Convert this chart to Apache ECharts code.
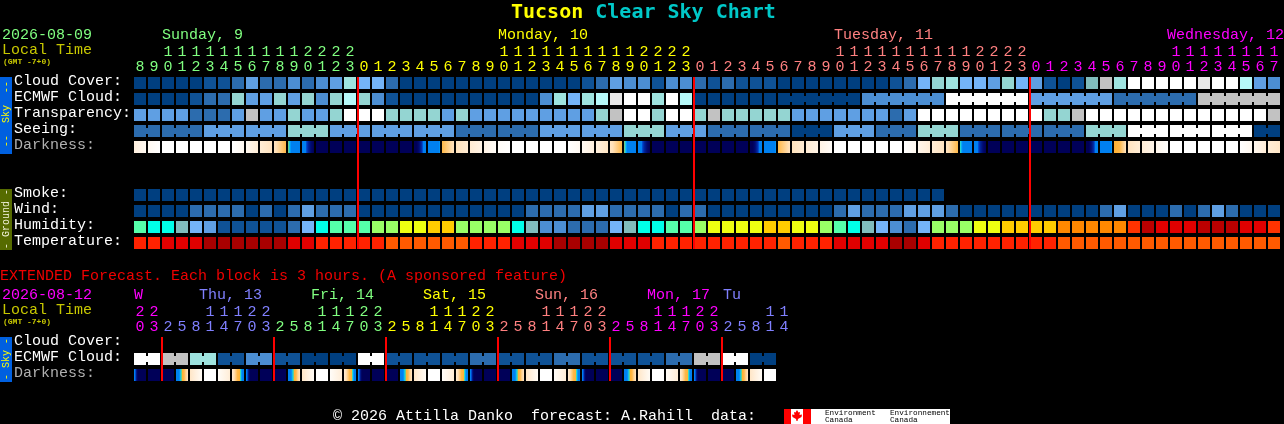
<!DOCTYPE html>
<html><head><meta charset="utf-8">
<style>html,body{margin:0;padding:0;background:#000;}#c{width:1284px;height:424px;}</style>
<script src="https://cdn.jsdelivr.net/npm/echarts@6/dist/echarts.min.js"></script>
</head><body><div id="c"></div>
<script>
// ---- values ----
const mainHours = [8,9,10,11,12,13,14,15,16,17,18,19,20,21,22,23,
  0,1,2,3,4,5,6,7,8,9,10,11,12,13,14,15,16,17,18,19,20,21,22,23,
  0,1,2,3,4,5,6,7,8,9,10,11,12,13,14,15,16,17,18,19,20,21,22,23,
  0,1,2,3,4,5,6,7,8,9,10,11,12,13,14,15,16,17];
const extHours = [20,23,2,5,8,11,14,17,20,23,2,5,8,11,14,17,20,23,2,5,8,11,14,17,20,23,
  2,5,8,11,14,17,20,23,2,5,8,11,14,17,20,23,2,5,8,11,14];
const mainRows = ['Cloud Cover:','ECMWF Cloud:','Transparency:','Seeing:','Darkness:','','','Smoke:','Wind:','Humidity:','Temperature:'];
const extRows = ['Cloud Cover:','ECMWF Cloud:','Darkness:'];

// levels index into levelColors
const cloudCover = [0,0,0,0,0,1,1,2,4,2,2,3,2,3,4,7,5,5,2,0,0,
  0,0,0,0,0,0,0,0,0,0,0,1,2,4,3,3,1,3,3,2,1,2,1,1,1,0,0,0,0,0,0,
  0,0,1,2,5,6,7,5,5,4,6,5,4,1,0,1,12,10,7,9,9,9,9,9,11,9,9,8,4,3];
const ecmwfCloud = [0,0,0,0,1,2,2,6,4,4,6,4,6,3,6,8,6,3,1,0,0,
  0,0,0,0,0,0,0,0,3,7,5,7,8,11,9,9,7,9,8,0,0,0,0,0,0,
  0,0,0,0,0,0, 3,3,3,3,3,3, 9,9,9,9,9,9, 4,4,4,4,4,4, 2,2,2,2,2,2, 10,10,10,10,10,10];
const ecmwfBlocks = [1,1,1,1,1,1,1,1,1,1,1,1,1,1,1,1,1,1,1,1,1,1,1,1,1,1,1,1,1,1,1,1,1,1,1,1,1,1,1,1,1,1,1,1,1,1,6,6,6,6,6,6];
const transparency = [4,4,4,4,2,2,2,4,10,4,4,6,4,4,6,9,9,9,6,6,6,
  6,4,6,4,4,4,4,4,4,4,4,4,6,10,9,9,6,9,9,6,10,6,6,6,6,6,4,4,4,4,4,
  4,4,2,4,9,9,9,9,9,9,9,9,9,6,6,10,9,9,9,9,9,9,9,9,9,9,9,9,9,10];
const seeing = [2,2, 2,2,2, 4,4,4, 4,4,4, 6,6,6, 4,4,4, 4,4,4, 4,4,4, 2,2,2, 2,2,2, 4,4,4, 4,4,4,
  6,6,6, 4,4,4, 2,2,2, 2,2,2, 0,0,0, 4,4,4, 2,2,2, 6,6,6, 2,2,2, 2,2,2, 2,2,2, 6,6,6, 9,9,9, 9,9,9, 9,9,9, 0,0];
const seeingBlocks = [2,3,3,3,3,3,3,3,3,3,3,3,3,3,3,3,3,3,3,3,3,3,3,3,3,3,3,2];
const smoke = [0,0,0,0,0,0,0,0,0,0,0,0,0,0,0,0,0,0,0,0,0,0,0,0,0,0,0,0,0,0,0,0,0,0,0,0,0,0,0,0,0,0,0,0,0,0,0,0,0,0,0,0,0,0,0,0,0,0];
const wind = [0,0,0,0,2,2,2,2,0,2,0,2,4,2,2,2,0,0,0,0,0,
  0,0,0,0,0,0,0,2,2,2,2,4,4,2,2,2,2,0,2,2,0,0,0,0,0,0,0,0,0,2,4,
  2,2,2,4,4,4,2,0,0,0,0,0,0,0,0,0,0,2,4,0,0,0,2,0,2,4,2,0,0,0];
const humidity = [13,14,14,12,5,4,1,1,1,1,1,2,5,14,13,13,13,15,15,16,16,
  17,17,15,15,15,15,14,12,3,3,2,2,2,5,12,14,14,13,13,15,16,16,16,16,17,17,16,16,15,13,14,
  12,5,3,2,5,15,15,15,16,16,17,17,17,17,18,18,18,18,18,19,20,21,21,21,20,20,20,21,21,19];
const temperature = [22,22,21,21,21,23,23,23,23,23,23,21,21,22,22,22,22,22,24,24,24,
  24,24,24,22,22,22,21,21,21,23,23,23,23,21,21,21,22,22,22,22,22,22,22,22,22,24,22,22,22,21,21,
  21,21,23,23,21,22,22,22,22,22,22,22,22,22,24,24,24,24,24,24,24,24,24,24,24,24,24,24,24,24];
const extEcmwf = [9,9,10,10,7,7,1,1,3,3,1,1,0,0,0,0,9,9,1,1,1,1,1,1,2,2,1,1,1,1,2,2,1,1,1,1,1,1,2,2,10,10,9,9,0,0];
const extEcmwfBlocks = [2,2,2,2,2,2,2,2,2,2,2,2,2,2,2,2,2,2,2,2,2,2,2];

// darkness: position on the twilight scale, sampled left to right across each cell
const darkness = [[1,0.4],[0.4,0],[0,0],[0,0],[0,0],[0,0],[0,0],[0,0.5],[0.5,1.2],[1.2,1.8],[1.8,3],[4,5],[5,6],[6,6],[6,6],[6,6],[6,6],[6,6],[6,6],[6,6],[6.3,5],[5,4.2],[3,1.9],[1.9,1.3],[1.3,0.8],[0.8,0.2],[0.2,0],[0,0],[0,0],[0,0],[0,0],
  [0,0.4],[0.4,1],[1,1.7],[1.7,3],[4,5],[5,6],[6,6],[6,6],[6,6],[6,6],[6,6],[6,6],[6,6],[6.3,5],[5,4.2],[3,1.9],[1.9,1.3],[1.3,0.8],[0.8,0.2],[0,0],[0,0],[0,0],[0,0],[0,0],
  [0,0.5],[0.6,1.2],[1.2,1.8],[1.8,3],[4.06,5],[5,6],[6,6],[6,6],[6,6],[6,6],[6,6],[6,6],[6,6],[6.3,5],[5,4.2],[4,1.9],[1.8,1.2],[1.2,0.7],[0.6,0.1],[0,0],[0,0],[0,0],[0,0],[0,0],[0,0.5],[0.5,1.2],[1.2,1.6]];
const extDarkness = [
  [5,8],[6,6],[6,6],[5,4.28,4,2.6,1.8],[1.6,0.3],[0,0],[0.2,1.2],[1.3,1.9,2.4,2.9,3.4,4.1,4.28,5.2],
  [5,8],[6,6],[6,6],[5,4.28,4,2.6,1.8],[1.6,0.3],[0,0],[0.2,1.2],[1.3,1.9,2.4,2.9,3.4,4.1,4.28,5.2],
  [5,8],[6,6],[6,6],[5,4.28,4,2.6,1.8],[1.6,0.3],[0,0],[0.2,1.2],[1.3,1.9,2.4,2.9,3.4,4.1,4.28,5.2],
  [5,8],[6,6],[6,6],[5,4.28,4,2.6,1.8],[1.6,0.3],[0,0],[0.2,1.2],[1.3,1.9,2.4,2.9,3.4,4.1,4.28,5.2],
  [5,8],[6,6],[6,6],[5,4.28,4,2.6,1.8],[1.6,0.3],[0,0],[0.2,1.2],[1.3,1.9,2.4,2.9,3.4,4.1,4.28,5.2],
  [5,8],[6,6],[6,6],[5,4.28,4,2.6,1.8],[1.6,0.3],[0,0]];

// ---- colours ----
const levelColors = ['#003f80','#0f5296','#2c6cae','#4c8ed2','#5f9fe3','#74b4f8','#94d5d2','#9ee3df','#b6f9f9','#ffffff','#c2c2c2','#e8e8e8','#80bcbc',
  '#55ffaa','#00ffe8','#99ff66','#eeff11','#ffcc00','#ff8800','#ff3300','#bb0000','#e00000','#ff2200','#a80000','#ff5a00'];
const darkKnots = [[0,'#ffffff'],[1,'#fff0de'],[2,'#ffe0b8'],[3,'#ffb848'],[3.99,'#ffb030'],[4,'#a8b850'],[4.08,'#30e0c8'],[4.2,'#00a0ff'],[4.28,'#0080f0'],
  [5.33,'#0080f0'],[5.36,'#0050d8'],[5.5,'#0028a0'],[5.75,'#000a70'],[6,'#000058'],[8,'#000058']];
const mainDayColors = ['#80ff80','#ffff00','#ff8080','#ff00ff'];
const extDayColors = ['#ff00ff','#8080ff','#80ff80','#ffff00','#ff8080','#ff00ff','#8080ff'];
const MONO = '"Liberation Mono"';

// ---- helpers ----
function dayIndexes(hours){ const out=[]; let d=0; hours.forEach((h,i)=>{ if(i&&h<hours[i-1]) d++; out.push(d); }); return out; }
const mainDays = dayIndexes(mainHours), extDays = dayIndexes(extHours);
const midnights = h => h.map((v,i)=> (i&&v<h[i-1])?i:-1).filter(i=>i>=0);
function hex(c){ return [1,3,5].map(i=>parseInt(c.substr(i,2),16)); }
function colorAt(v){
  for(let i=1;i<darkKnots.length;i++){
    const [a,ca]=darkKnots[i-1],[b,cb]=darkKnots[i];
    if(v<=b){ const t=(v-a)/(b-a),x=hex(ca),y=hex(cb);
      return 'rgb('+x.map((p,k)=>Math.round(p+(y[k]-p)*t)).join(',')+')'; }
  }
  return darkKnots[darkKnots.length-1][1];
}
function gradient(list){
  if(list.every(v=>v===list[0])) return colorAt(list[0]);
  const stops=[], n=list.length-1;
  for(let i=0;i<n;i++){
    const s=list[i],e=list[i+1],lo=Math.min(s,e),hi=Math.max(s,e);
    const vals=darkKnots.map(k=>k[0]).filter(k=>k>lo&&k<hi);
    vals.sort((a,b)=> s<e ? a-b : b-a);
    [s,...vals,e].forEach(v=>stops.push({offset:(i+(s===e?0:(v-s)/(e-s)))/n,color:colorAt(v)}));
  }
  return new echarts.graphic.LinearGradient(0,0,1,0,stops);
}
function cellRows(rowList){ // rowList: [rowIndex, values, blocks]
  const out=[];
  rowList.forEach(([r,vals,blocks])=>{
    const ends=new Set(); let p=0;
    if(blocks) blocks.forEach(b=>{p+=b;ends.add(p-1);});
    vals.forEach((v,i)=>out.push([i,r,v,(blocks&&!ends.has(i))?1:0]));
  });
  return out;
}
function renderCell(params,api){
  const c=api.coord([api.value(0),api.value(1)]),sz=api.size([1,1]);
  const w=sz[0]-2,h=sz[1]-4,x=c[0]-w/2,y=c[1]-h/2,col=levelColors[api.value(2)];
  const kids=[{type:'rect',shape:{x,y,width:w,height:h},style:{fill:col}}];
  if(api.value(3)) kids.push({type:'rect',shape:{x:x+w,y:y+3,width:2,height:h-6},style:{fill:col}});
  return {type:'group',children:kids};
}
function darkRenderer(lists){
  return function(params,api){
    const i=api.value(0),c=api.coord([i,api.value(1)]),sz=api.size([1,1]);
    const w=sz[0]-2,h=sz[1]-4;
    return {type:'rect',shape:{x:c[0]-w/2,y:c[1]-h/2,width:w,height:h},style:{fill:gradient(lists[i])}};
  };
}
function lineRenderer(rowCount){
  return function(params,api){
    const c=api.coord([api.value(0),0]),sz=api.size([1,1]);
    return {type:'rect',shape:{x:c[0]-sz[0]/2,y:c[1]-sz[1]/2+2,width:2,height:rowCount*sz[1]-4},style:{fill:'#ff0000'}};
  };
}
const digitLabel = {fontFamily:MONO,fontSize:15,interval:0,hideOverlap:false};
function xAxes(grid,hours,days,colors){
  const color=(v,i)=>colors[days[i]];
  const base={type:'category',gridIndex:grid,position:'top',data:hours.map(String),
    axisLine:{show:false},axisTick:{show:false},splitLine:{show:false}};
  return [
    Object.assign({},base,{axisLabel:Object.assign({},digitLabel,{margin:0,color,formatter:v=>String(+v%10)})}),
    Object.assign({},base,{offset:15,axisLabel:Object.assign({},digitLabel,{margin:0,color,formatter:v=>+v>=10?String(Math.floor(+v/10)):''})})
  ];
}
function yAxis(grid,rows,grey){
  return {type:'category',gridIndex:grid,inverse:true,data:rows,axisLine:{show:false},axisTick:{show:false},splitLine:{show:false},
    axisLabel:{interval:0,fontFamily:MONO,fontSize:15,align:'left',margin:119,verticalAlign:'bottom',lineHeight:4,color:(v,i)=>rows[i]===grey?'#b0b0b0':'#ffffff'}};
}
function txt(text,x,y,fill,size,extra){
  return Object.assign({type:'text',x,y,silent:true,z:5,style:{text,fill,font:(size===8?'bold ':'')+(size||15)+'px '+MONO,textAlign:'left',textVerticalAlign:'middle'}},extra||{});
}
function vtxt(text,x,y,fill){
  return {type:'text',x,y,rotation:Math.PI/2,silent:true,z:6,style:{text,fill,font:'10px '+MONO,textAlign:'center',textVerticalAlign:'middle'}};
}
function tab(x,y,w,h,fill){ return {type:'rect',silent:true,z:5,shape:{x,y,width:w,height:h},style:{fill}}; }

const chart=echarts.init(document.getElementById('c'),null,{renderer:'canvas'});
chart.setOption({
  animation:false,
  backgroundColor:'#000000',
  title:{left:511,top:3,padding:0,text:'{a|Tucson }{b|Clear Sky Chart}',
    textStyle:{rich:{a:{fontFamily:'"DejaVu Sans Mono"',fontWeight:'bold',fontSize:20,color:'#ffff00'},
                     b:{fontFamily:'"DejaVu Sans Mono"',fontWeight:'bold',fontSize:20,color:'#00c8c8'}}}},
  grid:[{left:133,top:75,width:14*mainHours.length,height:16*mainRows.length,containLabel:false},
        {left:133,top:335,width:14*extHours.length,height:16*extRows.length,containLabel:false}],
  xAxis:[...xAxes(0,mainHours,mainDays,mainDayColors),...xAxes(1,extHours,extDays,extDayColors)],
  yAxis:[yAxis(0,mainRows,'Darkness:'),yAxis(1,extRows,'Darkness:')],
  series:[
    {type:'custom',xAxisIndex:0,yAxisIndex:0,clip:false,renderItem:renderCell,silent:true,
     data:cellRows([[0,cloudCover],[1,ecmwfCloud,ecmwfBlocks],[2,transparency],[3,seeing,seeingBlocks],[7,smoke],[8,wind],[9,humidity],[10,temperature]])},
    {type:'custom',xAxisIndex:0,yAxisIndex:0,clip:false,renderItem:darkRenderer(darkness),silent:true,
     data:darkness.map((s,i)=>[i,4])},
    {type:'custom',xAxisIndex:0,yAxisIndex:0,clip:false,renderItem:lineRenderer(mainRows.length),silent:true,z:5,
     data:midnights(mainHours).map(i=>[i])},
    {type:'custom',xAxisIndex:2,yAxisIndex:1,clip:false,renderItem:renderCell,silent:true,
     data:cellRows([[1,extEcmwf,extEcmwfBlocks]])},
    {type:'custom',xAxisIndex:2,yAxisIndex:1,clip:false,renderItem:darkRenderer(extDarkness),silent:true,
     data:extDarkness.map((s,i)=>[i,2])},
    {type:'custom',xAxisIndex:2,yAxisIndex:1,clip:false,renderItem:lineRenderer(extRows.length),silent:true,z:5,
     data:midnights(extHours).map(i=>[i])}
  ],
  graphic:{elements:[
    txt('2026-08-09',2,35,'#80ff80'),
    txt('Local Time',2,50,'#c8c800'),
    txt('(GMT -7+0)',3,62,'#c8c800',8),
    txt('Sunday, 9',162,35,'#80ff80'),
    txt('Monday, 10',498,35,'#ffff00'),
    txt('Tuesday, 11',834,35,'#ff8080'),
    txt('Wednesday, 12',1167,35,'#ff00ff'),
    txt('EXTENDED Forecast. Each block is 3 hours. (A sponsored feature)',0,276,'#f00000'),
    txt('2026-08-12',2,295,'#ff00ff'),
    txt('Local Time',2,310,'#c8c800'),
    txt('(GMT -7+0)',3,322,'#c8c800',8),
    txt('W',134,295,'#ff00ff'),
    txt('Thu, 13',199,295,'#8080ff'),
    txt('Fri, 14',311,295,'#80ff80'),
    txt('Sat, 15',423,295,'#ffff00'),
    txt('Sun, 16',535,295,'#ff8080'),
    txt('Mon, 17',647,295,'#ff00ff'),
    txt('Tu',723,295,'#8080ff'),
    txt('\u00a9 2026 Attilla Danko  forecast: A.Rahill  data:',333,416,'#ffffff'),
    tab(0,77,12,77,'#0060e0'),
    vtxt('--  Sky  --',6,114,'#ffff00'),
    tab(0,189,12,61,'#566b00'),
    vtxt('- Ground -',6,219,'#f0f0d8'),
    tab(0,337,12,45,'#0060e0'),
    vtxt('- Sky -',6,359,'#ffff00'),
    tab(784,409,166,15,'#ffffff'),
    tab(784,409,7,15,'#ff0000'),
    tab(803,409,8,15,'#ff0000'),
    {type:'polygon',silent:true,z:6,shape:{points:[[797,410],[798.5,412.5],[800,412],[799.5,415],[802,414.5],[801.5,417],[798,419],[797.5,421],[796.5,421],[796,419],[792.5,417],[792,414.5],[794.5,415],[794,412],[795.5,412.5]]},style:{fill:'#ff0000'}},
    txt('Environment',825,413,'#000000',7.7),
    txt('Canada',825,420,'#000000',7.7),
    txt('Environnement',890,413,'#000000',7.7),
    txt('Canada',890,420,'#000000',7.7)
  ]}
});
</script></body></html>
